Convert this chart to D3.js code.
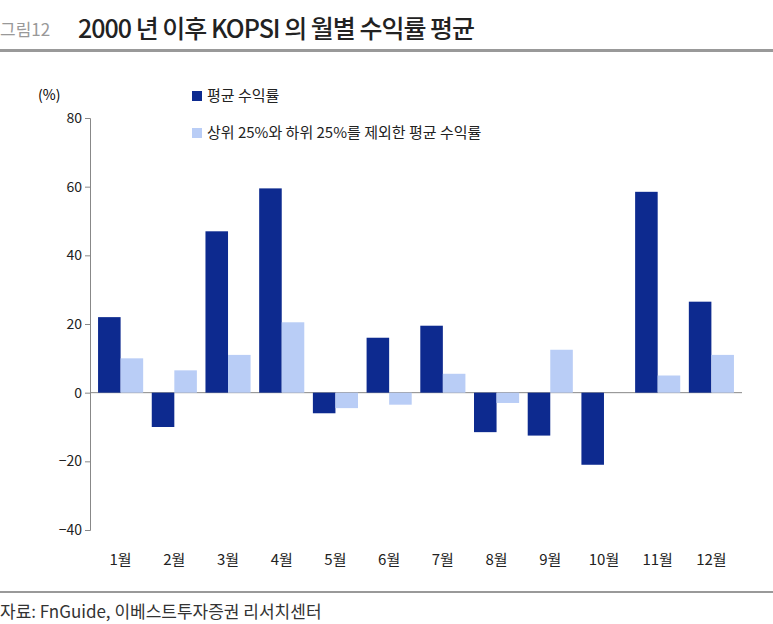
<!DOCTYPE html><html><head><meta charset="utf-8"><script src="https://cdn.jsdelivr.net/npm/d3@7"></script>
<style>body{margin:0;background:#fff;font-family:"Noto Sans CJK KR",sans-serif}</style></head><body><svg id="c" width="773" height="624"></svg>
<script>
const months=["1월","2월","3월","4월","5월","6월","7월","8월","9월","10월","11월","12월"];
const avgReturn=[22,-10,47,59.5,-6,16,19.5,-11.5,-12.5,-21,58.5,26.5];
const trimmedReturn=[10,6.5,11,20.5,-4.5,-3.5,5.5,-3,12.5,0,5,11];
const yTicks=[-40,-20,0,20,40,60,80];
const seriesNames=["평균 수익률","상위 25%와 하위 25%를 제외한 평균 수익률"];
const colors=["#0d2a8f","#b9cdf6"];
const svg=d3.select("#c");
const f='"Noto Sans CJK KR",sans-serif';
svg.append("text").attr("x",0).attr("y",36).attr("font-size",17).attr("fill","#999").attr("font-family",f).text("그림12");
svg.append("text").attr("x",78).attr("y",38).attr("font-size",25).attr("font-weight",500).attr("fill","#222").attr("font-family",f).attr("letter-spacing",-1).text("2000 년 이후 KOPSI 의 월별 수익률 평균");
svg.append("rect").attr("x",0).attr("y",49).attr("width",773).attr("height",3).attr("fill","#999");
svg.append("rect").attr("x",0).attr("y",591).attr("width",773).attr("height",2).attr("fill","#999");
svg.append("text").attr("x",0).attr("y",618).attr("font-size",17).attr("fill","#333").attr("font-family",f).text("자료: FnGuide, 이베스트투자증권 리서치센터");
const y=d3.scaleLinear().domain([-40,80]).range([530,118]);
const x=d3.scaleBand().domain(months).range([90,742]).paddingInner(0.16).paddingOuter(0.15);
const xs=d3.scaleBand().domain([0,1]).range([0,x.bandwidth()]);
const ax=svg.append("g").attr("transform","translate(90,0)").call(d3.axisLeft(y).tickValues(yTicks).tickSize(5).tickFormat(d=>d<0?"−"+(-d):d));
ax.selectAll("text").attr("font-size",14).attr("font-family",f).attr("fill","#222");
ax.select(".domain").attr("stroke","#888");ax.selectAll("line").attr("stroke","#888");
svg.append("text").attr("x",38).attr("y",100).attr("font-size",14).attr("font-family",f).text("(%)");
svg.append("line").attr("x1",90).attr("x2",742).attr("y1",y(0)).attr("y2",y(0)).attr("stroke","#888");
[avgReturn,trimmedReturn].forEach((s,i)=>{
 svg.append("g").selectAll("rect").data(s).join("rect")
  .attr("x",(d,j)=>x(months[j])+xs(i)).attr("width",xs.bandwidth())
  .attr("y",d=>y(Math.max(0,d))).attr("height",d=>Math.abs(y(d)-y(0))).attr("fill",colors[i]);
});
svg.append("g").selectAll("text").data(months).join("text").attr("x",d=>x(d)+x.bandwidth()/2).attr("y",565)
 .attr("text-anchor","middle").attr("font-size",15).attr("font-family",f).attr("fill","#222").text(d=>d);
seriesNames.forEach((n,i)=>{
 const ly=97+i*37;
 svg.append("rect").attr("x",192).attr("y",ly-6).attr("width",10).attr("height",10).attr("fill",colors[i]);
 svg.append("text").attr("x",207).attr("y",ly+4).attr("font-size",15).attr("font-family",f).attr("fill","#222").text(n);
});
</script></body></html>
